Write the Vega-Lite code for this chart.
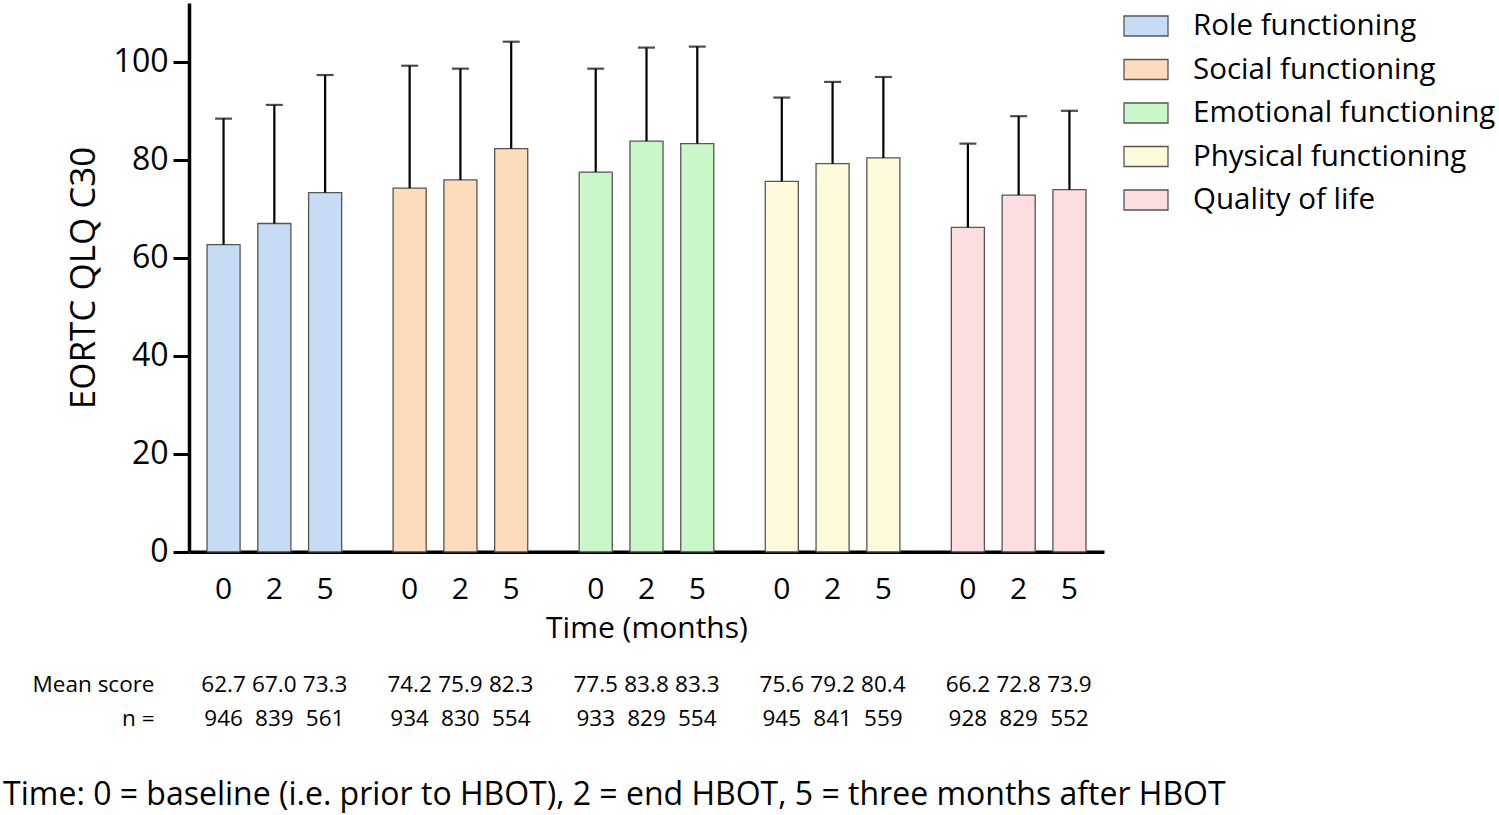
{
  "$schema": "https://vega.github.io/schema/vega-lite/v6.json",
  "padding": {"left": 3, "top": 3, "right": 0, "bottom": 8},
  "config": {
    "font": "Open Sans",
    "view": {"stroke": null},
    "axis": {"grid": false, "domainColor": "#000", "tickColor": "#000", "labelColor": "#000", "titleColor": "#000", "titleFontWeight": "normal"},
    "legend": {"labelFontSize": 29.5, "labelColor": "#000", "symbolStrokeColor": "#555", "symbolStrokeWidth": 1.3, "padding": 0}
  },
  "title": {
    "text": "Time: 0 = baseline (i.e. prior to HBOT), 2 = end HBOT, 5 = three months after HBOT",
    "orient": "bottom", "anchor": "start", "fontSize": 32, "fontWeight": "normal", "color": "#000", "offset": 25, "frame": "bounds", "dx": -29
  },
  "data": {
    "values": [
      {"group": "Role functioning", "time": "0", "mean": 62.7, "upper": 88.4, "n": 946},
      {"group": "Role functioning", "time": "2", "mean": 67.0, "upper": 91.2, "n": 839},
      {"group": "Role functioning", "time": "5", "mean": 73.3, "upper": 97.3, "n": 561},
      {"group": "Social functioning", "time": "0", "mean": 74.2, "upper": 99.2, "n": 934},
      {"group": "Social functioning", "time": "2", "mean": 75.9, "upper": 98.6, "n": 830},
      {"group": "Social functioning", "time": "5", "mean": 82.3, "upper": 104.1, "n": 554},
      {"group": "Emotional functioning", "time": "0", "mean": 77.5, "upper": 98.6, "n": 933},
      {"group": "Emotional functioning", "time": "2", "mean": 83.8, "upper": 102.9, "n": 829},
      {"group": "Emotional functioning", "time": "5", "mean": 83.3, "upper": 103.1, "n": 554},
      {"group": "Physical functioning", "time": "0", "mean": 75.6, "upper": 92.7, "n": 945},
      {"group": "Physical functioning", "time": "2", "mean": 79.2, "upper": 95.9, "n": 841},
      {"group": "Physical functioning", "time": "5", "mean": 80.4, "upper": 96.9, "n": 559},
      {"group": "Quality of life", "time": "0", "mean": 66.2, "upper": 83.3, "n": 928},
      {"group": "Quality of life", "time": "2", "mean": 72.8, "upper": 88.9, "n": 829},
      {"group": "Quality of life", "time": "5", "mean": 73.9, "upper": 90.0, "n": 552}
    ]
  },
  "spacing": 6,
  "vconcat": [
    {
      "width": 915,
      "height": 548.8,
      "encoding": {
        "x": {"field": "group", "type": "nominal", "sort": null,
              "scale": {"paddingInner": 0.2766, "paddingOuter": 0.0969},
              "axis": {"labels": false, "ticks": false, "title": null, "domainWidth": 3.5}},
        "xOffset": {"field": "time", "type": "nominal", "sort": ["0", "2", "5"],
                    "scale": {"paddingInner": 0.349, "paddingOuter": 0}}
      },
      "layer": [
        {
          "mark": {"type": "bar", "stroke": "#555", "strokeWidth": 1.3},
          "encoding": {
            "y": {"field": "mean", "type": "quantitative",
                  "scale": {"domain": [0, 112], "nice": false},
                  "axis": {"values": [0, 20, 40, 60, 80, 100], "labelFontSize": 32, "tickSize": 16, "tickWidth": 3,
                           "domainWidth": 3.5, "labelPadding": 5, "title": "EORTC QLQ C30", "titleFontSize": 35, "titlePadding": 12}},
            "color": {"field": "group", "type": "nominal", "title": null,
                      "scale": {"domain": ["Role functioning", "Social functioning", "Emotional functioning", "Physical functioning", "Quality of life"],
                                "range": ["#c6dcf5", "#fcdcbc", "#c9f7c9", "#fdfbdc", "#fcdde0"]},
                      "legend": {"orient": "right", "offset": 19, "symbolType": "M-1,-0.4545H1V0.4545H-1Z", "symbolSize": 1936,
                                 "labelOffset": 24, "rowPadding": 5.5, "labelLimit": 400}}
          }
        },
        {
          "mark": {"type": "rule", "strokeWidth": 2.2, "color": "#000"},
          "encoding": {
            "y": {"field": "mean", "type": "quantitative"},
            "y2": {"field": "upper"}
          }
        },
        {
          "mark": {"type": "tick", "size": 17, "thickness": 2.2, "color": "#000", "orient": "horizontal"},
          "encoding": {
            "y": {"field": "upper", "type": "quantitative"}
          }
        }
      ]
    },
    {
      "width": 915,
      "height": 25,
      "mark": {"type": "text", "fontSize": 30, "color": "#000"},
      "encoding": {
        "x": {"field": "group", "type": "nominal", "sort": null,
              "scale": {"paddingInner": 0.2766, "paddingOuter": 0.0969},
              "axis": {"labels": false, "ticks": false, "domain": false, "title": "Time (months)", "titleFontSize": 30, "titlePadding": 11}},
        "xOffset": {"field": "time", "type": "nominal", "sort": ["0", "2", "5"],
                    "scale": {"paddingInner": 0.349, "paddingOuter": 0}},
        "text": {"field": "time"}
      }
    },
    {
      "width": 915,
      "height": 106,
      "encoding": {
        "x": {"field": "group", "type": "nominal", "sort": null,
              "scale": {"paddingInner": 0.2766, "paddingOuter": 0.0969},
              "axis": null},
        "xOffset": {"field": "time", "type": "nominal", "sort": ["0", "2", "5"],
                    "scale": {"paddingInner": 0.349, "paddingOuter": 0}}
      },
      "layer": [
        {
          "mark": {"type": "text", "fontSize": 22.5, "color": "#000"},
          "encoding": {
            "y": {"datum": "Mean score", "type": "nominal",
                  "scale": {"type": "band", "domain": ["Mean score", "n ="], "paddingInner": 0, "paddingOuter": 0.56},
                  "axis": {"title": null, "domain": false, "ticks": false, "labelFontSize": 22.5, "labelPadding": 35}},
            "text": {"field": "mean", "format": ".1f"}
          }
        },
        {
          "mark": {"type": "text", "fontSize": 22.5, "color": "#000"},
          "encoding": {
            "y": {"datum": "n =", "type": "nominal"},
            "text": {"field": "n"}
          }
        }
      ]
    }
  ]
}
